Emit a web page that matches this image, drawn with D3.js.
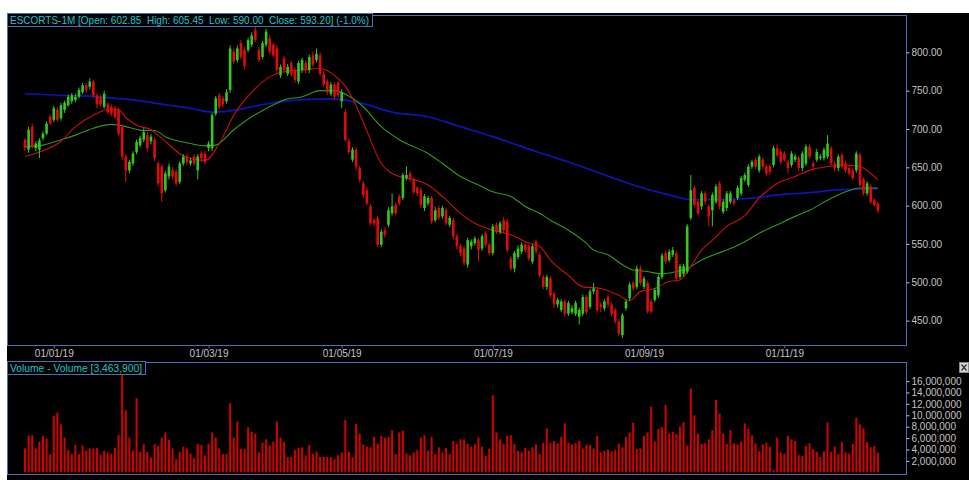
<!DOCTYPE html>
<html>
<head>
<meta charset="utf-8">
<script src="https://cdn.jsdelivr.net/npm/d3@7/dist/d3.min.js"></script>
<style>
  html, body { margin: 0; padding: 0; background: #fff; }
  svg { display: block; font-family: "Liberation Sans", Arial, sans-serif; }
  text { white-space: pre; }
</style>
</head>
<body>
<svg id="chart" width="969" height="480"></svg>
<script>
// daily candles, Dec 2018 -> Dec 2019
const opens = [686,673,703,675,673,688,694,716,712,725,714,725,731,736,738,742,748,757,755,762,
  744,742,729,732,729,727,725,703,664,646,655,670,679,686,692,684,686,655,651,620,
  638,646,644,631,655,664,655,664,646,668,668,675,675,720,744,740,736,751,801,790,
  812,803,803,810,829,803,794,810,818,810,805,770,792,772,786,777,762,777,786,777,
  796,790,796,772,762,746,758,760,736,722,684,660,673,649,629,620,599,581,584,549,
  568,575,590,601,612,610,636,642,634,623,620,597,603,610,581,597,586,594,575,581,
  560,547,544,523,547,551,555,544,564,549,538,575,566,581,579,531,518,533,540,549,
  547,527,553,536,507,494,505,485,471,464,475,459,461,459,455,459,481,468,488,490,
  471,466,481,471,464,449,431,466,479,499,494,518,494,499,475,477,483,507,538,529,
  536,538,507,511,514,584,623,605,599,616,599,594,605,629,592,597,605,607,610,616,
  634,627,651,660,646,660,651,651,653,675,670,668,657,653,660,662,649,655,677,655,
  660,662,662,664,675,655,649,666,655,649,646,646,666,634,616,625,607,602.85];
const highs = [688,703,707,684,688,697,710,719,730,728,734,737,745,747,746,754,760,760,766,764,
  747,745,750,735,732,730,728,706,667,660,671,686,691,701,696,693,689,658,654,645,
  655,650,648,658,667,667,662,667,667,671,671,684,721,743,747,743,752,809,805,809,
  816,807,819,826,834,807,815,831,822,813,809,784,795,785,789,780,789,793,789,797,
  801,805,800,776,765,761,761,763,752,726,687,676,676,652,632,624,602,584,587,569,
  572,598,616,604,615,643,651,645,637,626,624,615,613,613,598,600,600,598,587,584,
  563,550,548,558,556,560,558,563,567,552,576,578,580,585,582,534,541,548,552,552,
  550,550,556,539,510,510,508,488,480,478,478,476,470,476,467,484,484,491,499,493,
  474,478,484,474,467,452,460,478,500,502,522,522,508,502,478,493,510,538,541,543,
  546,541,524,524,576,640,626,608,619,619,602,617,628,632,608,619,619,610,626,639,
  643,654,660,663,667,663,654,654,678,680,674,671,660,671,667,665,671,680,680,658,
  674,667,676,692,678,658,667,669,658,652,650,671,669,637,632,628,610,605.45];
const lows = [671,669,674,671,662,685,692,705,709,709,711,721,729,733,735,740,746,747,752,741,
  727,729,726,719,717,713,691,659,631,642,652,667,676,683,671,680,658,625,605,617,
  634,634,626,628,652,653,652,652,634,657,654,671,671,717,726,728,733,747,785,787,
  791,778,800,807,813,787,791,807,797,793,773,767,773,769,769,760,759,773,773,773,
  781,787,769,755,745,743,739,741,727,683,667,657,646,630,610,600,574,573,546,546,
  558,572,587,587,600,607,633,631,615,612,597,593,600,576,578,581,583,574,572,556,
  543,534,522,519,543,548,527,541,546,535,535,563,563,565,539,515,513,530,537,539,
  528,524,537,506,491,490,480,466,467,461,456,456,458,456,445,456,458,465,485,461,
  461,463,467,456,446,430,427,463,476,489,491,496,491,459,459,474,480,504,524,526,
  533,502,504,508,511,581,598,587,595,601,573,573,602,595,589,593,602,600,607,613,
  631,624,648,648,643,648,639,640,650,663,654,657,642,650,657,645,645,652,661,646,
  657,659,659,661,652,644,645,648,643,639,633,643,624,613,613,602,599,590];
const closes = [675,699,677,681,685,694,707,707,727,712,731,734,742,744,742,751,757,751,762,744,
  732,732,746,722,720,716,694,664,646,657,668,683,688,696,675,690,662,629,616,642,
  651,638,629,655,664,657,659,655,664,662,657,681,718,740,729,732,748,805,788,805,
  794,782,816,822,816,790,812,827,801,796,777,781,777,781,772,764,786,790,777,794,
  784,798,772,758,748,758,742,744,748,686,670,673,651,634,614,603,577,577,549,566,
  562,594,599,590,603,640,640,634,618,616,601,612,610,579,594,584,597,577,584,560,
  547,538,525,555,553,557,542,560,549,538,573,566,577,568,542,518,538,544,549,542,
  531,547,540,509,494,507,483,471,477,475,459,473,466,473,464,481,461,488,492,464,
  468,475,471,459,449,433,457,475,497,492,518,499,505,462,462,490,507,535,527,540,
  542,505,521,521,573,620,601,590,616,605,586,614,625,599,605,616,616,603,623,636,
  640,651,657,651,664,651,642,644,675,666,657,660,649,668,664,649,668,677,664,651,
  670,664,673,681,655,649,664,651,646,642,636,668,627,616,629,605,601,593.2];
// volume in millions
const volumes = [4.2,6.4,6.5,4.2,5.4,6.4,5.9,3.2,9.9,10.5,8.4,6.1,3.9,3.2,4.8,3.2,4.7,3.8,4.2,4.2,
  4.3,3.1,3.8,3.5,3.3,4.3,6.5,17.4,10.9,6.1,3.8,13.0,3.6,4.9,3.6,2.6,4.9,4.6,6.1,7.0,
  5.7,4.2,2.3,3.6,4.5,4.2,3.3,2.5,5.0,4.8,3.0,5.0,7.0,6.1,4.2,3.2,3.2,12.1,6.1,8.9,
  4.1,4.1,7.9,7.1,6.8,3.5,5.2,5.8,4.7,5.4,8.9,6.1,5.3,2.7,2.7,3.9,4.3,4.4,3.0,4.8,
  3.3,3.6,2.7,2.7,2.7,2.7,2.3,3.0,3.5,9.2,3.6,2.7,8.5,6.8,4.9,4.5,4.4,6.2,5.0,6.4,
  6.1,6.2,7.4,3.2,7.0,7.3,3.3,3.0,3.5,3.9,6.1,6.5,3.8,6.2,3.2,4.4,3.5,4.3,3.2,5.5,
  5.0,5.8,5.8,5.0,4.5,4.9,6.1,4.5,2.9,4.1,13.5,7.0,5.8,5.0,6.4,6.5,5.0,3.8,3.5,4.3,
  3.8,4.4,4.9,3.2,5.2,7.7,5.2,5.5,5.1,6.2,8.6,5.2,4.9,5.1,5.5,4.2,4.9,4.8,4.2,6.4,
  3.5,3.8,4.0,3.7,3.9,5.0,4.4,6.2,7.0,8.7,4.1,4.2,6.4,7.0,11.5,5.4,7.6,7.9,11.8,6.8,
  7.1,6.7,8.0,8.8,4.7,14.7,10.0,6.8,5.0,5.1,5.8,7.4,12.7,10.3,6.8,5.0,7.4,5.1,4.9,5.4,
  8.6,7.6,6.5,5.1,3.7,4.9,5.2,4.5,0.4,6.1,3.5,3.3,6.4,5.8,5.5,3.0,2.9,4.6,5.1,4.1,
  3.6,2.7,3.7,8.7,3.6,4.5,3.2,5.3,3.5,3.3,5.0,9.6,8.4,7.7,5.3,4.4,4.6,3.4639];

// moving averages, [candle index, value]
const maFast = [[0,664],[4,670],[10,684],[14,703],[19,718],[24,726],[26,725],[28,715],[31,705],[35,699],
  [38,688],[44,665],[50,659],[54,681],[58,718],[63,748],[68,768],[72,775],[77,777],[82,779],
  [86,770],[89,756],[91,740],[94,709],[99,655],[104,638],[108,634],[112,627],[116,612],[121,590],
  [125,577],[130,568],[135,562],[139,553],[143,547],[146,529],[151,509],[155,494],[160,492],[165,483],
  [168,476],[171,488],[175,492],[179,501],[182,503],[185,521],[188,542],[191,555],[195,573],[200,587],
  [204,610],[209,629],[214,638],[218,646],[223,651],[228,653],[232,651],[235,642],[237,634]];
const maMid = [[0,677],[5,679],[10,686],[14,692],[19,701],[24,706],[26,705],[29,702],[33,698],[36,698],
  [39,690],[46,681],[50,678],[53,679],[58,699],[63,716],[68,729],[72,738],[77,742],[82,750],
  [86,750],[91,740],[94,729],[99,703],[104,686],[112,668],[116,655],[121,638],[126,627],[130,618],
  [135,612],[139,599],[143,590],[146,581],[151,568],[156,551],[158,542],[162,536],[166,523],[169,516],
  [173,514],[177,511],[181,514],[184,518],[188,529],[192,537],[195,542],[200,553],[204,564],[209,575],
  [214,586],[218,594],[223,607],[228,618],[232,623],[237,623]];
const maSlow = [[0,746],[10,744],[20,742],[30,738],[40,731],[46,727],[52,722],[59,725],[63,729],[72,736],
  [81,739],[86,739],[94,733],[102,722],[112,716],[121,703],[130,690],[143,669],[151,657],[160,642],
  [169,627],[179,614],[185,608],[192,608],[200,609],[209,614],[218,617],[227,621],[237,622]];

const priceTicks = [450, 500, 550, 600, 650, 700, 750, 800];
const volumeTicks = [2e6, 4e6, 6e6, 8e6, 10e6, 12e6, 14e6, 16e6];
const dateTickIndex = [8, 51, 88, 130, 172, 211];
const dateTickLabels = ['01/01/19', '01/03/19', '01/05/19', '01/07/19', '01/09/19', '01/11/19'];

const frameColor = '#4d6db4';
const labelColor = '#c4c4c4';
const upColor = '#36c81c';
const downColor = '#e00c0c';

const svg = d3.select('#chart');

// black work area
svg.append('rect').attr('x', 7).attr('y', 13).attr('width', 962).attr('height', 467).attr('fill', '#000');

const price = { left: 7, right: 906, top: 15, bottom: 345 };
const vol = { left: 7, right: 906, top: 362, bottom: 474 };

const x = d3.scaleLinear().domain([-5, 244.8]).range([price.left, price.right]);
const yPrice = d3.scaleLinear().domain([418.2, 848.7]).range([price.bottom, price.top]);
const yVol = d3.scaleLinear().domain([-0.28e6, 19.33e6]).range([vol.bottom, vol.top]);

// moving average lines
const maLine = d3.line()
  .x((d) => x(d[0]))
  .y((d) => yPrice(d[1]))
  .curve(d3.curveMonotoneX);

svg.append('path').datum(maSlow).attr('d', maLine)
  .attr('fill', 'none').attr('stroke', '#0a16b4').attr('stroke-width', 1.7);
svg.append('path').datum(maMid).attr('d', maLine)
  .attr('fill', 'none').attr('stroke', '#2f9a18').attr('stroke-width', 1.1);
svg.append('path').datum(maFast).attr('d', maLine)
  .attr('fill', 'none').attr('stroke', '#cc1010').attr('stroke-width', 1.1);

// candles
const candles = opens.map((o, i) => ({ i, o, h: highs[i], l: lows[i], c: closes[i] }));
const bodyW = 2.6;

const cg = svg.append('g');
cg.selectAll('line')
  .data(candles)
  .enter()
  .append('line')
  .attr('x1', (d) => x(d.i))
  .attr('x2', (d) => x(d.i))
  .attr('y1', (d) => yPrice(d.h))
  .attr('y2', (d) => yPrice(d.l))
  .attr('stroke', (d) => (d.c >= d.o ? upColor : downColor))
  .attr('stroke-width', 1);

cg.selectAll('rect')
  .data(candles)
  .enter()
  .append('rect')
  .attr('x', (d) => x(d.i) - bodyW / 2)
  .attr('y', (d) => yPrice(Math.max(d.o, d.c)))
  .attr('width', bodyW)
  .attr('height', (d) => Math.max(1, Math.abs(yPrice(d.o) - yPrice(d.c))))
  .attr('fill', (d) => (d.c >= d.o ? upColor : downColor));

// volume bars
svg.append('g')
  .selectAll('rect')
  .data(volumes)
  .enter()
  .append('rect')
  .attr('x', (d, i) => x(i) - 1)
  .attr('y', (d) => yVol(d * 1e6))
  .attr('width', 2)
  .attr('height', (d) => yVol(0) - yVol(d * 1e6))
  .attr('fill', '#d40000');

// panel frames
[price, vol].forEach((p) => {
  svg.append('rect')
    .attr('x', p.left + 0.5).attr('y', p.top + 0.5)
    .attr('width', p.right - p.left).attr('height', p.bottom - p.top)
    .attr('fill', 'none').attr('stroke', frameColor).attr('stroke-width', 1);
});

// axes
function styleAxis(g) {
  g.select('.domain').remove();
  g.selectAll('.tick line').attr('stroke', labelColor);
  g.selectAll('.tick text').attr('fill', labelColor).attr('font-size', 10)
    .attr('font-family', '"Liberation Sans", Arial, sans-serif');
}

svg.append('g')
  .attr('transform', `translate(${price.right + 0.5},0)`)
  .call(d3.axisRight(yPrice).tickValues(priceTicks).tickFormat(d3.format('.2f')).tickSize(3).tickPadding(2))
  .call(styleAxis);

svg.append('g')
  .attr('transform', `translate(${vol.right + 0.5},0)`)
  .call(d3.axisRight(yVol).tickValues(volumeTicks).tickFormat(d3.format(',')).tickSize(3).tickPadding(2))
  .call(styleAxis);

svg.append('g')
  .attr('transform', `translate(0,${price.bottom + 0.5})`)
  .call(d3.axisBottom(x).tickValues(dateTickIndex).tickFormat((d, i) => dateTickLabels[i]).tickSize(3).tickPadding(1))
  .call(styleAxis)
  .call((g) => g.selectAll('.tick line').attr('stroke', frameColor));

// legend boxes
function legend(px, py, w, label) {
  svg.append('rect')
    .attr('x', px + 0.5).attr('y', py + 0.5).attr('width', w).attr('height', 13)
    .attr('fill', '#000').attr('stroke', frameColor);
  svg.append('text')
    .attr('x', px + 3).attr('y', py + 11)
    .attr('fill', '#1ec6cc').attr('font-size', 10.5)
    .attr('textLength', w - 6).attr('lengthAdjust', 'spacingAndGlyphs')
    .text(label);
}
legend(7, 13, 365, 'ESCORTS-1M [Open: 602.85  High: 605.45  Low: 590.00  Close: 593.20] (-1.0%)');
legend(7, 361, 138, 'Volume - Volume [3,463,900]');

// close button of the volume pane
svg.append('rect').attr('x', 959.5).attr('y', 362.5).attr('width', 9).attr('height', 10)
  .attr('fill', '#d4d4d4').attr('stroke', '#8a8a8a');
svg.append('path').attr('d', 'M961.5,364.5L966.5,370.5M966.5,364.5L961.5,370.5')
  .attr('stroke', '#303030').attr('stroke-width', 1.2);
</script>
</body>
</html>
